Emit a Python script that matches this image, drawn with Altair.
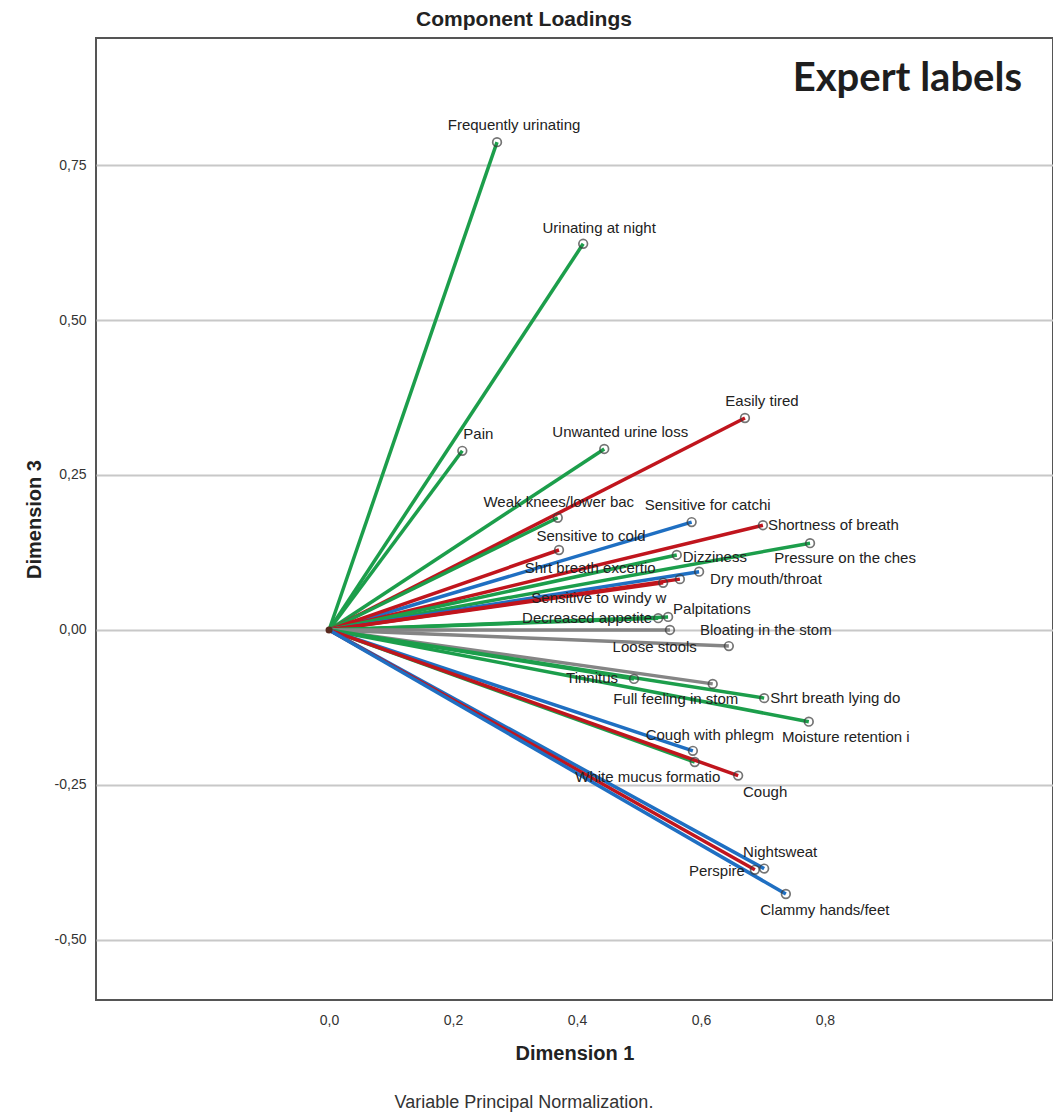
import altair as alt
import pandas as pd

# Component loadings (Dimension 1 vs Dimension 3), one vector per symptom
names = [
    "Frequently urinating", "Urinating at night", "Pain", "Unwanted urine loss",
    "Easily tired", "Weak knees/lower bac", "Sensitive for catchi", "Sensitive to cold",
    "Shortness of breath", "Pressure on the ches", "Dizziness", "Dry mouth/throat",
    "Shrt breath excertio", "Sensitive to windy w", "Palpitations", "Decreased appetite",
    "Bloating in the stom", "Loose stools", "Tinnitus", "Full feeling in stom",
    "Shrt breath lying do", "Moisture retention i", "Cough with phlegm",
    "White mucus formatio", "Cough", "Nightsweat", "Perspire", "Clammy hands/feet",
]
dim1 = [
    0.271, 0.410, 0.215, 0.444,
    0.671, 0.369, 0.585, 0.371,
    0.700, 0.776, 0.561, 0.597,
    0.539, 0.566, 0.547, 0.531,
    0.550, 0.645, 0.492, 0.619,
    0.702, 0.774, 0.587,
    0.590, 0.660, 0.702, 0.687, 0.737,
]
dim3 = [
    0.787, 0.623, 0.289, 0.292,
    0.342, 0.181, 0.174, 0.129,
    0.169, 0.140, 0.121, 0.094,
    0.076, 0.082, 0.021, 0.019,
    0.000, -0.026, -0.079, -0.087,
    -0.110, -0.148, -0.195,
    -0.213, -0.235, -0.385, -0.387, -0.426,
]
groups = [
    "G", "G", "G", "G",
    "R", "G", "B", "R",
    "R", "G", "G", "B",
    "R", "R", "G", "G",
    "K", "K", "G", "K",
    "G", "G", "B",
    "G", "R", "B", "R", "B",
]

group_domain = ["G", "R", "B", "K"]
group_colors = ["#1c9e4b", "#c0151d", "#1f6fc2", "#858585"]

# label placement: (align, dx, dy) relative to each endpoint
placement = {
    "Frequently urinating": ("center", 17, -17),
    "Urinating at night": ("center", 16, -16),
    "Pain": ("center", 16, -17),
    "Unwanted urine loss": ("center", 16, -17),
    "Easily tired": ("center", 17, -17),
    "Weak knees/lower bac": ("center", 1, -16),
    "Sensitive for catchi": ("center", 16, -17),
    "Sensitive to cold": ("center", 32, -14),
    "Shortness of breath": ("left", 5, 0),
    "Pressure on the ches": ("center", 35, 15),
    "Dizziness": ("left", 6, 2),
    "Dry mouth/throat": ("left", 11, 7),
    "Shrt breath excertio": ("center", -73, -15),
    "Sensitive to windy w": ("center", -81, 19),
    "Palpitations": ("left", 5, -8),
    "Decreased appetite": ("right", -6, 0),
    "Bloating in the stom": ("left", 30, 0),
    "Loose stools": ("right", -32, 1),
    "Tinnitus": ("right", -16, -1),
    "Full feeling in stom": ("center", -37, 15),
    "Shrt breath lying do": ("left", 6, 0),
    "Moisture retention i": ("center", 37, 15),
    "Cough with phlegm": ("center", 17, -16),
    "White mucus formatio": ("center", -47, 15),
    "Cough": ("center", 27, 16),
    "Nightsweat": ("center", 16, -17),
    "Perspire": ("right", -10, 1),
    "Clammy hands/feet": ("center", 39, 16),
}

df = pd.DataFrame({"name": names, "dim1": dim1, "dim3": dim3, "group": groups})
df["x0"] = 0.0
df["y0"] = 0.0

W, H = 957, 962
xs = alt.Scale(domain=[-0.376, 1.168], nice=False, zero=False)
ys = alt.Scale(domain=[-0.597, 0.955], nice=False, zero=False)
# decimal comma and a plain hyphen for negatives
comma = "replace(replace(format(datum.value, '{}'), '.', ','), '\u2212', '-')"

x_axis = alt.Axis(
    values=[0, 0.2, 0.4, 0.6, 0.8], labelExpr=comma.format(".1f"),
    grid=False, ticks=False, domain=False, labelPadding=13,
    labelFont="Liberation Sans", labelFontSize=14, labelColor="#333",
    title="Dimension 1", titleFont="Liberation Sans", titleFontSize=20,
    titleFontWeight="bold", titleColor="#222", titlePadding=16,
)
y_axis = alt.Axis(
    values=[-0.5, -0.25, 0, 0.25, 0.5, 0.75], labelExpr=comma.format(".2f"),
    grid=True, gridColor="#c8c8c8", gridWidth=2, ticks=False, domain=False,
    labelPadding=10, labelFont="Liberation Sans", labelFontSize=14, labelColor="#333",
    title="Dimension 3", titleFont="Liberation Sans", titleFontSize=20,
    titleFontWeight="bold", titleColor="#222", titlePadding=10,
)

color = alt.Color("group:N", scale=alt.Scale(domain=group_domain, range=group_colors), legend=None)

vectors = alt.Chart(df).mark_rule(strokeWidth=3.5).encode(
    x=alt.X("x0:Q", scale=xs, axis=x_axis),
    y=alt.Y("y0:Q", scale=ys, axis=y_axis),
    x2="dim1:Q",
    y2="dim3:Q",
    color=color,
)

ends = alt.Chart(df).mark_point(
    shape="circle", filled=False, size=75, stroke="#3a3a3a", strokeWidth=1.7
).encode(x=alt.X("dim1:Q", scale=xs), y=alt.Y("dim3:Q", scale=ys))

origin = alt.Chart(pd.DataFrame({"x": [0.0], "y": [0.0]})).mark_point(
    shape="circle", filled=True, size=50, color="#5a2a20", opacity=1
).encode(x=alt.X("x:Q", scale=xs), y=alt.Y("y:Q", scale=ys))

labels = []
for n in names:
    align, dx, dy = placement[n]
    labels.append(
        alt.Chart(df).transform_filter(alt.datum.name == n).mark_text(
            align=align, baseline="middle", dx=dx, dy=dy,
            font="Liberation Sans", fontSize=15, color="#222",
        ).encode(x=alt.X("dim1:Q", scale=xs), y=alt.Y("dim3:Q", scale=ys), text="name:N")
    )

one = pd.DataFrame({"k": [0]})
title = alt.Chart(one).mark_text(
    text="Component Loadings", font="Liberation Sans", fontSize=21, fontWeight="bold",
    color="#222", align="center", baseline="middle",
).encode(x=alt.value(428), y=alt.value(-18))

badge = alt.Chart(one).mark_text(
    text="Expert labels", font="Lato", fontSize=40, fontWeight="bold",
    color="#1e1e1e", align="right", baseline="alphabetic",
).encode(x=alt.value(926), y=alt.value(53))

footnote = alt.Chart(one).mark_text(
    text="Variable Principal Normalization.", font="Liberation Sans", fontSize=18,
    color="#333", align="center", baseline="middle",
).encode(x=alt.value(428), y=alt.value(1065))

chart = alt.layer(vectors, ends, origin, *labels, title, badge, footnote).properties(
    width=W, height=H,
    autosize=alt.AutoSizeParams(type="none"),
    padding={"left": 96, "top": 38, "right": 0, "bottom": 115},
).configure_view(stroke="#555", strokeWidth=2)

chart.save("out.html", embed_options={"renderer": "svg", "actions": False})
